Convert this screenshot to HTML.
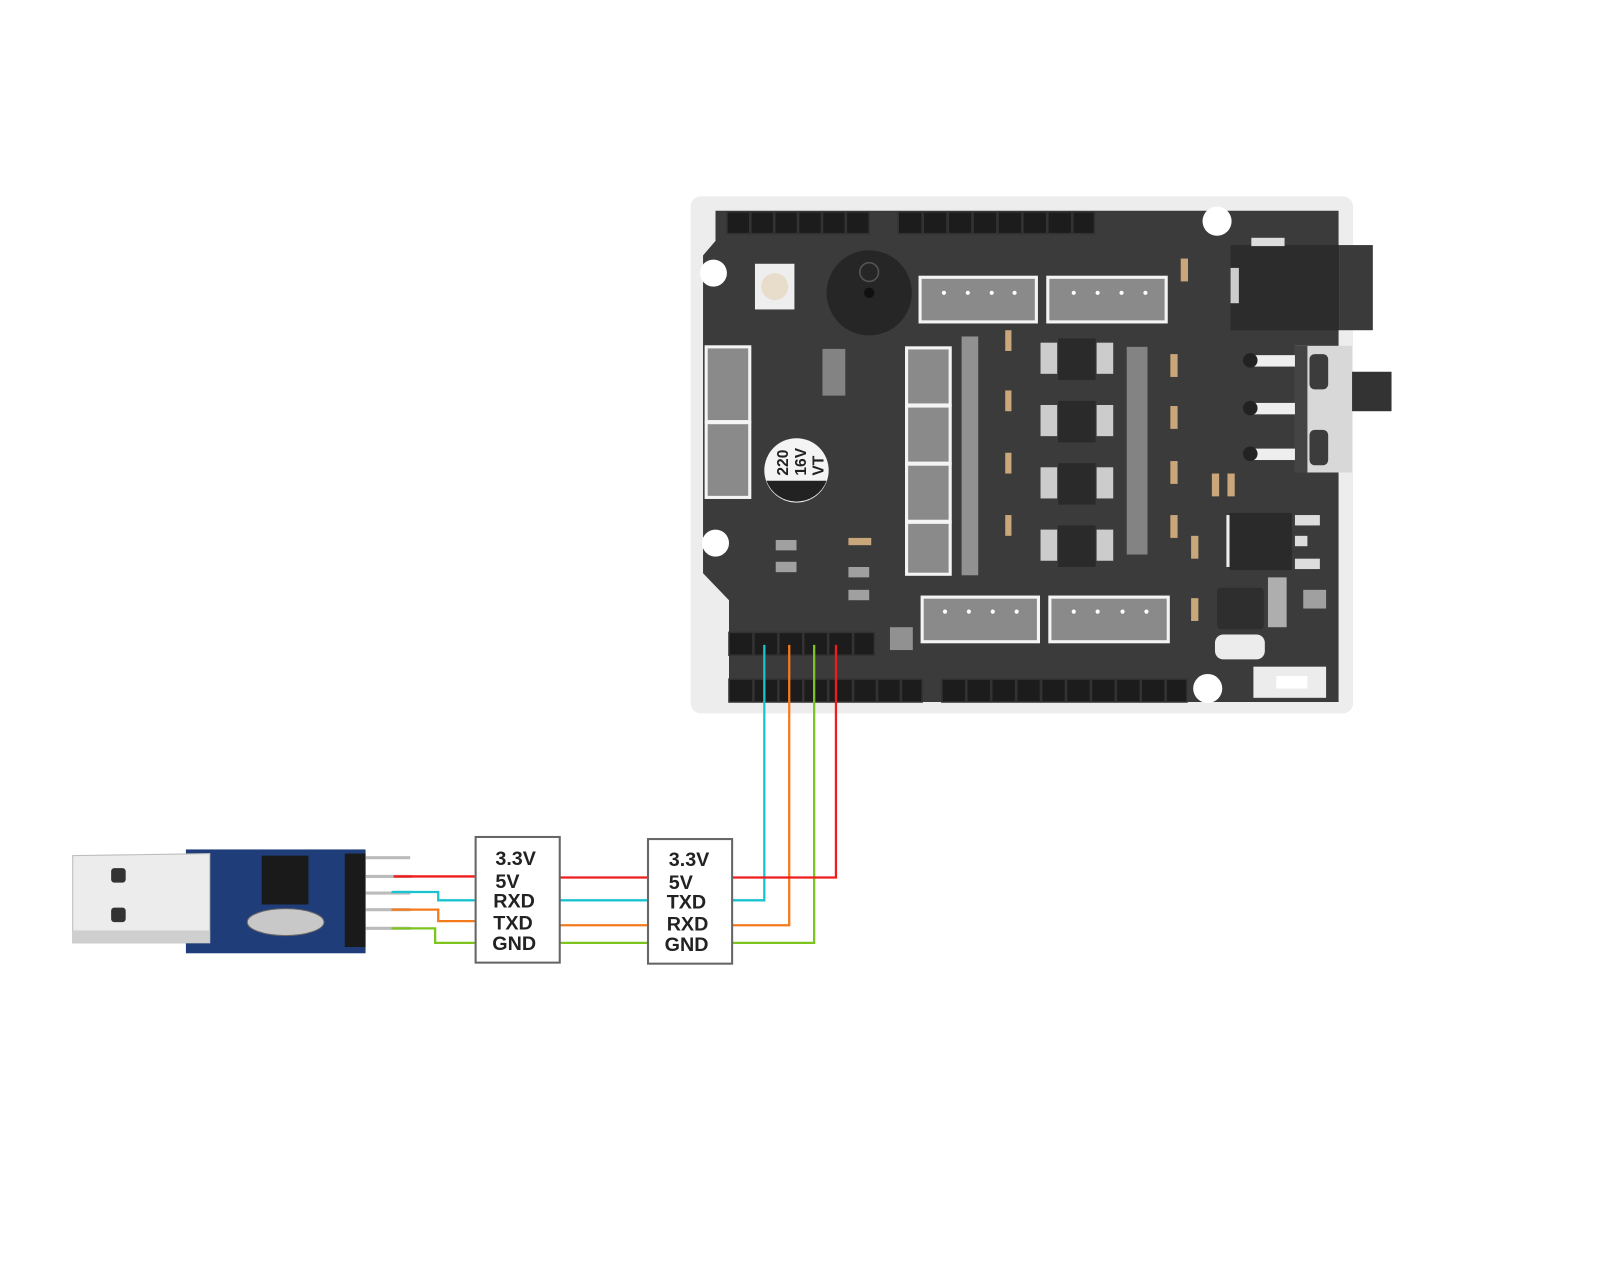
<!DOCTYPE html>
<html><head><meta charset="utf-8"><style>
html,body{margin:0;padding:0;background:#fff;}
svg{display:block;}
text{font-family:"Liberation Sans",sans-serif;font-weight:bold;}
</style></head><body>
<svg width="1620" height="1270" viewBox="0 0 1560 1223" xmlns="http://www.w3.org/2000/svg">
<rect width="1560" height="1223" fill="#fff"/>
<g transform="translate(-3,-4)">
<rect x="668" y="193" width="638" height="498" rx="10" fill="#ededed"/>
<polygon points="692,207 1292,207 1292,680 705,680 705,582 680,556 680,250 692,236" fill="#3b3b3b"/>
<rect x="1188" y="240" width="105" height="82" fill="#2c2c2c"/>
<rect x="1293" y="240" width="32" height="82" fill="#3a3a3a"/>
<rect x="1208" y="233" width="32" height="8" fill="#ddd"/>
<rect x="1188" y="262" width="8" height="34" fill="#ccc"/>
<rect x="1250" y="337" width="55" height="122" fill="#d8d8d8"/>
<rect x="1250" y="337" width="12" height="122" fill="#444"/>
<rect x="1264" y="345" width="18" height="34" rx="5" fill="#3c3c3c"/>
<rect x="1264" y="418" width="18" height="34" rx="5" fill="#3c3c3c"/>
<rect x="1305" y="362" width="38" height="38" fill="#333"/>
<g fill="#eee"><rect x="1210" y="346" width="40" height="11"/><rect x="1210" y="392" width="40" height="11"/><rect x="1210" y="436" width="40" height="11"/></g>
<g fill="#222"><circle cx="1207" cy="351" r="7"/><circle cx="1207" cy="397" r="7"/><circle cx="1207" cy="441" r="7"/></g>
<g fill="#fff"><circle cx="690" cy="267" r="13"/><circle cx="1175" cy="217" r="14"/><circle cx="692" cy="527" r="13"/><circle cx="1166" cy="667" r="14"/></g>
<rect x="730" y="258" width="38" height="44" fill="#eee"/><circle cx="749" cy="280" r="13" fill="#e8dccb"/>
<circle cx="840" cy="286" r="41" fill="#262626"/><circle cx="840" cy="286" r="5" fill="#111"/>
<circle cx="840" cy="266" r="9" fill="none" stroke="#555" stroke-width="1.5"/>
<g fill="#8a8a8a" stroke="#f4f4f4" stroke-width="3">
<rect x="889" y="271" width="112" height="43"/><rect x="1012" y="271" width="114" height="43"/>
<rect x="891" y="579" width="112" height="43"/><rect x="1014" y="579" width="114" height="43"/>
<rect x="683" y="338" width="42" height="72"/><rect x="683" y="411" width="42" height="72"/>
<rect x="876" y="339" width="42" height="55"/><rect x="876" y="395" width="42" height="55"/><rect x="876" y="451" width="42" height="55"/><rect x="876" y="507" width="42" height="50"/>
</g>
<g fill="#fff">
<circle cx="912" cy="286" r="2"/><circle cx="935" cy="286" r="2"/><circle cx="958" cy="286" r="2"/><circle cx="980" cy="286" r="2"/>
<circle cx="1037" cy="286" r="2"/><circle cx="1060" cy="286" r="2"/><circle cx="1083" cy="286" r="2"/><circle cx="1106" cy="286" r="2"/>
<circle cx="913" cy="593" r="2"/><circle cx="936" cy="593" r="2"/><circle cx="959" cy="593" r="2"/><circle cx="982" cy="593" r="2"/>
<circle cx="1037" cy="593" r="2"/><circle cx="1060" cy="593" r="2"/><circle cx="1084" cy="593" r="2"/><circle cx="1107" cy="593" r="2"/>
</g>
<circle cx="770" cy="457" r="31" fill="#f4f4f4"/>
<path d="M741,467 A31,31 0 0 0 799,467 Z" fill="#222"/>
<text x="0" y="0" font-size="15" font-weight="normal" fill="#222" transform="translate(762,462) rotate(-90)">220</text>
<text x="0" y="0" font-size="15" font-weight="normal" fill="#222" transform="translate(779,462) rotate(-90)">16V</text>
<text x="0" y="0" font-size="15" font-weight="normal" fill="#222" transform="translate(796,462) rotate(-90)">VT</text>
<g fill="#2a2a2a"><rect x="1022" y="330" width="36" height="40"/><rect x="1022" y="390" width="36" height="40"/><rect x="1022" y="450" width="36" height="40"/><rect x="1022" y="510" width="36" height="40"/></g>
<g fill="#ccc">
<rect x="1005" y="334" width="16" height="30"/><rect x="1059" y="334" width="16" height="30"/>
<rect x="1005" y="394" width="16" height="30"/><rect x="1059" y="394" width="16" height="30"/>
<rect x="1005" y="454" width="16" height="30"/><rect x="1059" y="454" width="16" height="30"/>
<rect x="1005" y="514" width="16" height="30"/><rect x="1059" y="514" width="16" height="30"/>
<rect x="1088" y="338" width="20" height="200" opacity="0.5"/>
<rect x="929" y="328" width="16" height="230" opacity="0.6"/>
</g>
<g fill="#c9a77a"><rect x="971" y="322" width="6" height="20"/><rect x="971" y="380" width="6" height="20"/><rect x="971" y="440" width="6" height="20"/><rect x="971" y="500" width="6" height="20"/>
<rect x="1130" y="345" width="7" height="22"/><rect x="1130" y="395" width="7" height="22"/><rect x="1130" y="448" width="7" height="22"/><rect x="1130" y="500" width="7" height="22"/><rect x="1140" y="253" width="7" height="22"/><rect x="1150" y="520" width="7" height="22"/><rect x="1150" y="580" width="7" height="22"/><rect x="1170" y="460" width="7" height="22"/><rect x="1185" y="460" width="7" height="22"/><rect x="820" y="522" width="22" height="7"/></g>
<rect x="1187" y="498" width="60" height="55" fill="#2a2a2a"/>
<rect x="1184" y="500" width="3" height="50" fill="#eee"/>
<g fill="#ddd"><rect x="1250" y="500" width="24" height="10"/><rect x="1250" y="520" width="12" height="10"/><rect x="1250" y="542" width="24" height="10"/></g>
<g fill="#ccc"><rect x="750" y="524" width="20" height="10" opacity="0.7"/><rect x="750" y="545" width="20" height="10" opacity="0.7"/><rect x="820" y="550" width="20" height="10" opacity="0.7"/><rect x="820" y="572" width="20" height="10" opacity="0.7"/><rect x="795" y="340" width="22" height="45" opacity="0.5"/><rect x="1224" y="560" width="18" height="48" opacity="0.8"/><rect x="1258" y="572" width="22" height="18" opacity="0.7"/><rect x="860" y="608" width="22" height="22" opacity="0.6"/></g>
<g fill="#2e2e2e"><rect x="1175" y="570" width="45" height="40" rx="4"/></g>
<g fill="#ececec"><rect x="1173" y="615" width="48" height="24" rx="8"/><rect x="1210" y="646" width="70" height="30"/></g>
<rect x="1232" y="655" width="30" height="12" fill="#fff"/>
<g fill="#1c1c1c" stroke="#333" stroke-width="1.5">
<rect x="703" y="208" width="22" height="21"/><rect x="726" y="208" width="22" height="21"/><rect x="749" y="208" width="22" height="21"/><rect x="772" y="208" width="22" height="21"/><rect x="795" y="208" width="22" height="21"/><rect x="818" y="208" width="22" height="21"/>
<rect x="868" y="208" width="23" height="21"/><rect x="892" y="208" width="23" height="21"/><rect x="916" y="208" width="23" height="21"/><rect x="940" y="208" width="23" height="21"/><rect x="964" y="208" width="23" height="21"/><rect x="988" y="208" width="23" height="21"/><rect x="1012" y="208" width="23" height="21"/><rect x="1036" y="208" width="21" height="21"/>
<rect x="705" y="613" width="23" height="22"/><rect x="729" y="613" width="23" height="22"/><rect x="753" y="613" width="23" height="22"/><rect x="777" y="613" width="23" height="22"/><rect x="801" y="613" width="23" height="22"/><rect x="825" y="613" width="20" height="22"/>
<rect x="705" y="658" width="23" height="22"/><rect x="729" y="658" width="23" height="22"/><rect x="753" y="658" width="23" height="22"/><rect x="777" y="658" width="23" height="22"/><rect x="801" y="658" width="23" height="22"/><rect x="825" y="658" width="22" height="22"/><rect x="848" y="658" width="22" height="22"/><rect x="871" y="658" width="20" height="22"/>
<rect x="910" y="658" width="23" height="22"/><rect x="934" y="658" width="23" height="22"/><rect x="958" y="658" width="23" height="22"/><rect x="982" y="658" width="23" height="22"/><rect x="1006" y="658" width="23" height="22"/><rect x="1030" y="658" width="23" height="22"/><rect x="1054" y="658" width="23" height="22"/><rect x="1078" y="658" width="23" height="22"/><rect x="1102" y="658" width="23" height="22"/><rect x="1126" y="658" width="20" height="22"/>
</g>
<g fill="none" stroke-width="2.2">
<polyline stroke="#19c3cf" points="739,625 739,871 708,871"/>
<polyline stroke="#f47a1c" points="763,625 763,895 708,895"/>
<polyline stroke="#7dc41e" points="787,625 787,912 708,912"/>
<polyline stroke="#f01c1c" points="808,625 808,849 708,849"/>
<line stroke="#f01c1c" x1="542" y1="849" x2="627" y2="849"/>
<line stroke="#19c3cf" x1="542" y1="871" x2="627" y2="871"/>
<line stroke="#f47a1c" x1="542" y1="895" x2="627" y2="895"/>
<line stroke="#7dc41e" x1="542" y1="912" x2="627" y2="912"/>
<polyline stroke="#f01c1c" points="382,848 460,848"/>
<polyline stroke="#19c3cf" points="382,863 425,863 425,871 460,871"/>
<polyline stroke="#f47a1c" points="382,880 425,880 425,891 460,891"/>
<polyline stroke="#7dc41e" points="382,898 422,898 422,912 460,912"/>
</g>
<rect x="461" y="810" width="81" height="121" fill="#fff" stroke="#666" stroke-width="2"/>
<rect x="627" y="812" width="81" height="120" fill="#fff" stroke="#666" stroke-width="2"/>
<g font-size="19" fill="#222">
<text x="480" y="837">3.3V</text><text x="480" y="859">5V</text><text x="478" y="878">RXD</text><text x="478" y="899">TXD</text><text x="477" y="919">GND</text>
<text x="647" y="838">3.3V</text><text x="647" y="860">5V</text><text x="645" y="879">TXD</text><text x="645" y="900">RXD</text><text x="643" y="920">GND</text>
</g>
<rect x="182" y="822" width="173" height="100" fill="#1f3d78"/>
<polygon points="73,828 205,826 205,912 73,912" fill="#ececec" stroke="#bbb"/>
<rect x="73" y="900" width="132" height="12" fill="#cfcfcf"/>
<rect x="110" y="840" width="14" height="14" rx="3" fill="#333"/><rect x="110" y="878" width="14" height="14" rx="3" fill="#333"/>
<rect x="255" y="828" width="45" height="47" fill="#1a1a1a"/>
<ellipse cx="278" cy="892" rx="37" ry="13" fill="#c8c8c8" stroke="#666"/>
<rect x="335" y="826" width="20" height="90" fill="#1a1a1a"/>
<g stroke="#bbb" stroke-width="3"><line x1="355" y1="830" x2="398" y2="830"/><line x1="355" y1="848" x2="398" y2="848"/><line x1="355" y1="864" x2="398" y2="864"/><line x1="355" y1="880" x2="398" y2="880"/><line x1="355" y1="898" x2="398" y2="898"/></g>
<g fill="none" stroke-width="2.2">
<line stroke="#f01c1c" x1="382" y1="848" x2="400" y2="848"/>
<line stroke="#19c3cf" x1="380" y1="863" x2="400" y2="863"/>
<line stroke="#f47a1c" x1="380" y1="880" x2="400" y2="880"/>
<line stroke="#7dc41e" x1="380" y1="898" x2="400" y2="898"/>
</g>
</g>
</svg>
</body></html>
